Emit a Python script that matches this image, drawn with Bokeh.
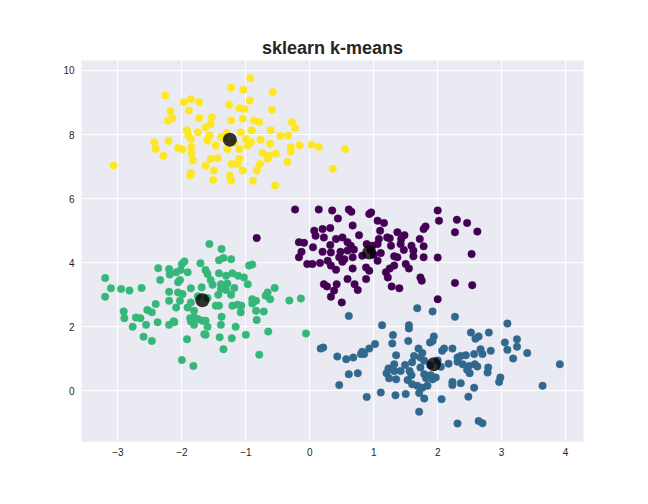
from bokeh.plotting import figure
from bokeh.models import Range1d, FixedTicker
from bokeh.embed import file_html
from bokeh.resources import INLINE

TITLE = "sklearn k-means"
x_ticks = [-3, -2, -1, 0, 1, 2, 3, 4]
x_tick_labels = ["\u22123", "\u22122", "\u22121", "0", "1", "2", "3", "4"]
y_ticks = [0, 2, 4, 6, 8, 10]
y_tick_labels = ["0", "2", "4", "6", "8", "10"]

# cluster 0 (purple)
c0 = [(-0.23,5.66),(0.14,5.66),(0.35,5.63),(0.61,5.66),(0.65,5.59),(0.44,5.38),(0.93,5.52),(0.96,5.57),
      (1.06,5.31),(1.16,5.24),(0.67,5.16),(0.32,5.08),(0.07,5.00),(0.20,5.05),(0.09,4.84),(0.22,4.79),
      (0.41,4.74),(0.51,4.79),(0.77,4.86),(1.10,5.00),(1.08,4.74),(1.21,4.79),(-0.17,4.64),(-0.09,4.62),
      (0.05,4.48),(0.32,4.55),(0.59,4.64),(0.64,4.53),(0.89,4.58),(0.98,4.53),(1.06,4.58),(-0.13,4.34),
      (0.20,4.34),(0.33,4.32),(0.48,4.34),(0.59,4.38),(0.69,4.41),(-0.17,4.17),(0.46,4.17),(0.54,4.11),
      (0.67,4.17),(0.82,4.22),(1.11,4.30),(1.06,4.06),(-0.04,3.96),(0.04,3.96),(0.16,3.99),(0.28,4.06),
      (0.33,3.91),(0.41,3.78),(0.51,4.03),(0.67,3.82),(0.88,3.85),(0.93,3.75),(0.88,3.49),(0.59,3.49),
      (0.22,3.33),(0.27,3.26),(0.42,3.33),(0.38,3.13),(0.70,3.33),(0.75,3.15),(0.33,2.94),(0.50,2.76),
      (-0.83,4.77),(2.00,5.63),(2.02,5.31),(2.30,5.34),(2.46,5.24),(2.27,4.95),(2.62,4.97),(1.78,5.05),
      (1.81,5.13),(1.37,4.95),(1.48,4.86),(1.43,4.74),(1.25,4.76),(1.72,4.74),(1.27,4.53),(1.42,4.58),
      (1.59,4.53),(1.78,4.51),(1.47,4.40),(1.62,4.38),(1.32,4.20),(1.37,4.17),(1.62,4.20),(1.78,4.17),
      (2.00,4.16),(2.53,4.27),(1.50,3.96),(1.55,3.82),(1.32,3.91),(1.25,3.82),(1.19,3.70),(1.22,3.54),
      (1.73,3.54),(1.75,3.44),(1.28,3.26),(1.40,3.20),(2.27,3.37),(2.54,3.30),(2.00,2.86),(0.95,4.40),
      (1.00,4.25)]
x0 = [p[0] for p in c0]
y0 = [p[1] for p in c0]

# cluster 1 (blue)
c1 = [(0.61,2.34),(1.68,2.58),(1.92,2.48),(1.13,2.05),(1.55,2.05),(1.55,1.95),(1.30,1.74),(1.54,1.56),
      (1.29,1.48),(1.94,1.70),(1.92,1.56),(1.88,1.51),(0.17,1.32),(0.21,1.35),(1.02,1.46),(0.93,1.32),
      (0.82,1.22),(0.80,1.15),(0.85,1.15),(0.43,1.07),(0.57,0.99),(0.68,1.04),(1.70,1.32),(1.76,1.18),
      (1.35,1.11),(1.63,1.09),(1.73,1.04),(1.79,0.94),(1.32,0.83),(1.49,0.81),(1.60,0.89),(1.23,0.70),
      (1.32,0.62),(1.42,0.62),(1.56,0.62),(1.73,0.73),(1.20,0.55),(1.59,0.49),(1.79,0.52),(1.24,0.39),
      (1.35,0.36),(1.53,0.34),(1.82,0.39),(1.89,0.49),(1.92,0.36),(0.61,0.52),(0.75,0.55),(0.46,0.18),
      (1.60,0.21),(1.68,0.16),(1.76,0.10),(1.84,0.16),(1.11,-0.05),(1.34,-0.14),(1.50,-0.10),(1.71,-0.07),
      (1.79,-0.24),(0.89,-0.19),(1.71,-0.65),(2.27,2.31),(3.09,2.10),(2.52,1.82),(2.59,1.63),(2.64,1.70),
      (2.80,1.82),(3.05,1.51),(3.24,1.61),(3.24,1.38),(3.09,1.28),(3.40,1.18),(3.18,1.01),(3.91,0.83),
      (3.64,0.16),(2.07,1.25),(2.10,1.32),(2.23,1.32),(2.31,1.04),(2.36,1.09),(2.44,1.11),(2.57,1.15),
      (2.67,1.30),(2.70,1.15),(2.83,1.25),(2.17,0.85),(2.31,0.91),(2.39,0.83),(2.49,0.78),(2.58,0.83),
      (2.62,0.76),(2.46,0.66),(2.50,0.55),(2.79,0.73),(2.78,0.57),(2.98,0.42),(2.96,0.28),(1.97,0.42),
      (2.23,0.28),(2.23,0.18),(2.36,0.24),(2.57,0.10),(2.48,-0.18),(2.06,-0.26),(2.31,-1.02),(2.64,-0.94),
      (2.70,-1.01),(2.00,0.95),(2.05,0.75),(1.88,0.80)]
x1 = [p[0] for p in c1]
y1 = [p[1] for p in c1]

# cluster 2 (green)
c2 = [(-3.20,3.52),(-3.11,3.20),(-3.20,2.94),(-2.95,3.18),(-2.82,3.13),(-2.63,3.21),(-2.91,2.48),(-2.90,2.27),
      (-2.72,2.29),(-2.65,2.27),(-2.77,2.00),(-2.56,2.06),(-2.60,1.69),(-2.47,1.56),(-2.54,2.52),(-2.47,2.45),
      (-2.41,2.71),(-2.38,2.14),(-2.20,2.06),(-2.13,2.17),(-2.37,3.83),(-2.34,3.46),(-2.20,3.80),(-2.19,3.63),
      (-2.09,3.70),(-2.00,3.96),(-1.96,4.04),(-1.91,3.70),(-2.02,3.77),(-1.71,3.98),(-2.06,3.39),(-2.03,3.46),
      (-2.20,3.09),(-2.06,3.07),(-1.99,3.02),(-1.86,3.20),(-1.69,3.23),(-2.20,2.81),(-2.03,2.81),(-2.09,2.60),
      (-1.91,2.60),(-1.86,2.76),(-1.81,2.50),(-1.87,2.27),(-1.81,2.29),(-1.75,2.24),(-1.86,2.17),(-1.81,2.06),
      (-1.68,2.19),(-2.12,2.14),(-1.92,1.61),(-2.00,0.96),(-1.82,0.78),(-1.65,1.77),(-1.57,4.58),(-1.38,4.43),
      (-1.42,4.08),(-1.35,4.15),(-1.23,4.11),(-0.95,3.91),(-0.90,3.94),(-1.63,3.77),(-1.60,3.65),(-1.42,3.67),
      (-1.31,3.59),(-1.21,3.67),(-1.12,3.59),(-1.03,3.54),(-1.55,3.46),(-1.52,3.31),(-1.39,3.33),(-1.29,3.35),
      (-0.97,3.33),(-1.39,3.18),(-1.31,3.15),(-1.18,3.21),(-1.43,3.00),(-1.23,3.00),(-0.55,3.21),(-0.66,3.07),
      (-0.69,2.97),(-0.62,2.86),(-0.32,2.82),(-0.14,2.88),(-0.90,2.86),(-0.84,2.81),(-0.90,2.73),(-1.47,2.66),
      (-1.42,2.66),(-1.21,2.66),(-1.13,2.69),(-1.07,2.66),(-1.08,2.45),(-0.84,2.50),(-0.72,2.48),(-0.83,2.21),
      (-1.63,2.19),(-1.38,2.31),(-1.39,2.06),(-1.60,2.00),(-1.16,2.00),(-1.63,1.75),(-1.41,1.67),(-1.22,1.64),
      (-1.00,1.75),(-0.65,1.85),(-0.06,1.79),(-1.35,1.30),(-0.79,1.13),(-1.60,2.90),(-1.75,2.95)]
x2 = [p[0] for p in c2]
y2 = [p[1] for p in c2]

# cluster 3 (yellow)
c3 = [(-2.26,9.22),(-1.97,9.01),(-1.86,9.10),(-1.73,9.01),(-1.89,8.75),(-2.18,8.73),(-2.15,8.51),(-2.22,8.43),
      (-1.73,8.51),(-1.53,8.54),(-1.55,8.33),(-1.63,8.23),(-1.92,8.13),(-1.90,7.97),(-1.86,7.86),(-1.75,8.07),
      (-1.57,7.97),(-1.60,7.81),(-1.39,7.92),(-2.43,7.76),(-2.21,7.80),(-2.41,7.55),(-2.06,7.58),(-1.99,7.53),
      (-1.85,7.60),(-2.29,7.34),(-1.85,7.40),(-1.83,7.19),(-1.55,7.24),(-1.44,7.26),(-1.47,7.66),(-1.63,7.03),
      (-1.50,6.88),(-1.86,6.80),(-1.87,6.72),(-1.51,6.58),(-3.07,7.03),(-0.93,9.76),(-1.23,9.46),(-1.04,9.40),
      (-0.58,9.32),(-1.26,8.93),(-0.94,9.06),(-1.10,8.82),(-1.02,8.80),(-0.59,8.77),(-1.23,8.44),(-1.05,8.49),
      (-0.87,8.44),(-0.79,8.38),(-0.28,8.38),(-0.23,8.20),(-1.08,8.07),(-0.91,8.13),(-0.61,8.13),(-1.00,7.86),
      (-0.92,7.76),(-0.77,7.84),(-0.46,7.95),(-0.34,7.97),(-0.97,7.66),(-0.62,7.71),(-0.30,7.60),(-0.30,7.47),
      (-0.16,7.66),(0.03,7.68),(0.14,7.61),(0.55,7.55),(-1.10,7.55),(-1.29,7.55),(-0.74,7.43),(-0.64,7.34),
      (-0.53,7.40),(-0.66,7.24),(-1.10,7.24),(-1.13,7.08),(-1.22,7.08),(-0.78,7.08),(-0.35,7.14),(-1.05,6.88),
      (-0.83,6.88),(0.36,6.93),(-1.25,6.72),(-1.23,6.56),(-0.89,6.56),(-0.54,6.41),(-1.35,7.88),(-1.18,7.75),
      (-1.30,8.05)]
x3 = [p[0] for p in c3]
y3 = [p[1] for p in c3]

center_x = [0.93, 1.94, -1.68, -1.25]
center_y = [4.32, 0.83, 2.83, 7.84]

colors = ["#440154", "#31688e", "#35b779", "#fde725"]

p = figure(width=640, height=496,
           x_range=Range1d(-3.57, 4.28), y_range=Range1d(-1.58, 10.31),
           output_backend="svg", toolbar_location=None,
           min_border_left=81, min_border_right=57, min_border_top=60, min_border_bottom=55,
           background_fill_color="#EAEAF2", border_fill_color="white", outline_line_color=None,
           title=TITLE)

p.title.align = "center"
p.title.text_font = "Liberation Sans"
p.title.text_font_style = "bold"
p.title.text_font_size = "18px"
p.title.text_color = "#262626"
p.title.standoff = 5

p.xaxis.ticker = FixedTicker(ticks=x_ticks)
p.yaxis.ticker = FixedTicker(ticks=y_ticks)
p.xaxis.major_label_overrides = {t: l for t, l in zip(x_ticks, x_tick_labels)}
p.yaxis.major_label_overrides = {t: l for t, l in zip(y_ticks, y_tick_labels)}
for ax in (p.xaxis, p.yaxis):
    ax.axis_line_color = None
    ax.major_tick_line_color = None
    ax.minor_tick_line_color = None
    ax.major_tick_out = 0
    ax.major_tick_in = 0
    ax.minor_tick_out = 0
    ax.major_label_text_font = "Liberation Sans"
    ax.major_label_text_font_size = "10px"
    ax.major_label_text_color = "#262626"
p.xaxis.major_label_standoff = 6
p.yaxis.major_label_standoff = 7

p.grid.grid_line_color = "white"
p.grid.grid_line_width = 1

for xs, ys, col in ((x0, y0, colors[0]), (x1, y1, colors[1]), (x2, y2, colors[2]), (x3, y3, colors[3])):
    p.scatter(xs, ys, size=7.5, fill_color=col, line_color=col, line_width=0.5)

p.scatter(center_x, center_y, size=14, fill_color="black", line_color=None, fill_alpha=0.8)

open("out.html", "w").write(file_html(p, INLINE))
